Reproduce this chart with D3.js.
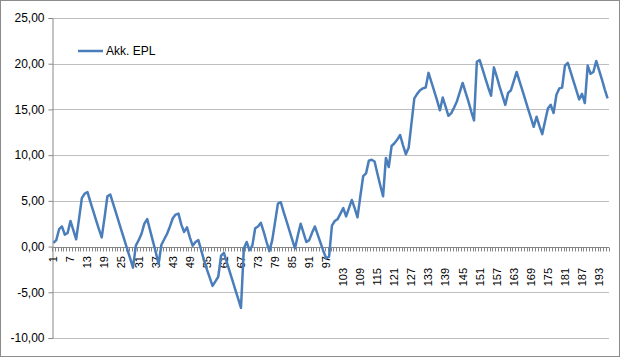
<!DOCTYPE html>
<html><head><meta charset="utf-8">
<script src="https://cdn.jsdelivr.net/npm/d3@7"></script>
<style>body{margin:0;background:#fff}svg{display:block}text{font-family:"Liberation Sans",Arial,sans-serif;fill:#000}</style>
</head><body><svg id="c" width="620" height="357"></svg>
<script>
const seriesName = "Akk. EPL";
const values = [
0.4,0.7,1.9,2.2,1.3,1.5,2.8,1.8,0.8,3.0,
5.3,5.8,5.95,4.9,3.9,2.9,1.9,1.0,3.2,5.5,
5.7,4.7,3.7,2.7,1.7,0.7,-0.3,-1.3,-2.3,0.1,
0.7,1.4,2.5,3.0,1.8,0.6,-0.6,-1.9,0.2,0.8,
1.4,2.2,3.1,3.5,3.6,2.4,1.6,2.1,1.0,0.1,
0.5,0.7,-0.4,-1.5,-2.5,-3.4,-4.3,-3.8,-3.3,-1.0,
-0.7,-1.7,-2.7,-3.7,-4.7,-5.7,-6.7,-0.2,0.5,-0.4,
0.1,2.0,2.2,2.6,1.6,0.5,-0.5,0.7,2.7,4.7,
4.85,3.8,2.8,1.8,0.8,-0.2,1.2,2.5,1.5,0.5,
0.7,1.5,2.2,1.3,0.4,-0.5,-1.3,-1.1,2.3,2.8,
3.0,3.6,4.2,3.3,4.2,5.1,4.2,3.2,5.5,7.7,
8.0,9.4,9.5,9.3,8.0,6.7,5.5,9.7,8.7,11.0,
11.3,11.7,12.2,11.1,10.1,10.8,13.5,16.2,16.7,17.1,
17.3,17.4,19.0,18.0,17.0,16.0,14.9,16.3,15.3,14.3,
14.6,15.2,15.9,16.9,17.9,16.9,15.9,14.8,13.8,20.2,
20.4,19.4,18.4,17.4,16.5,19.6,18.6,17.5,16.5,15.5,
16.8,17.1,18.1,19.1,18.1,17.1,16.1,15.1,14.1,13.1,
14.2,13.2,12.3,13.7,15.1,15.5,14.6,16.6,17.3,17.4,
19.8,20.1,19.1,18.1,17.1,16.1,16.7,15.7,19.8,18.9,
19.1,20.3,19.3,18.3,17.2,16.2
];
const categories = values.map((v,i)=>String(i+1));
const xTickLabels = categories.filter((c,i)=>i%6===0);
const yTicks = [-10,-5,0,5,10,15,20,25];

const svg = d3.select("#c");
const L=52,R=609,T=18,B=338;
svg.append("rect").attr("x",0.5).attr("y",0.5).attr("width",619).attr("height",356)
  .attr("fill","#fff").attr("stroke","#8c8c8c");

const x = d3.scaleBand().domain(categories).range([L,R]).padding(0);
const y = d3.scaleLinear().domain([-10,25]).range([B,T]);
const loc = d3.formatLocale({decimal:",",thousands:".",grouping:[3],currency:["",""],minus:"-"});
const fmt = loc.format(".2f");

// gridlines
svg.append("g").selectAll("line").data(yTicks).join("line")
  .attr("x1",L).attr("x2",R).attr("y1",d=>Math.round(y(d))+0.5).attr("y2",d=>Math.round(y(d))+0.5)
  .attr("stroke","#bfbfbf").attr("stroke-width",1);

// y axis
const ya = svg.append("g").attr("transform",`translate(${L+0.5},0)`)
  .call(d3.axisLeft(y).tickValues(yTicks).tickFormat(fmt).tickSize(4).tickPadding(4));
ya.select(".domain").attr("stroke","#868686");
ya.selectAll(".tick line").attr("stroke","#868686");
ya.selectAll(".tick text").attr("font-size","12px").attr("font-family","Liberation Sans, Arial, sans-serif").attr("fill","#000");

// x axis minor ticks at category boundaries
const y0 = Math.round(y(0))+0.5;
const bounds = categories.map(c=>x(c)).concat([R]);
svg.append("g").selectAll("line").data(bounds).join("line")
  .attr("x1",d=>Math.round(d)+0.5).attr("x2",d=>Math.round(d)+0.5)
  .attr("y1",y0).attr("y2",y0+4).attr("stroke","#868686");
svg.append("line").attr("x1",L).attr("x2",R).attr("y1",y0).attr("y2",y0).attr("stroke","#868686");

// x labels
svg.append("g").selectAll("text").data(xTickLabels).join("text")
  .attr("transform",d=>`translate(${x(d)+x.bandwidth()/2},${d.length>2?268:256}) rotate(-90)`)
  .attr("text-anchor","end").attr("dy","0.35em").attr("font-size","11px").text(d=>d);

// line
const line = d3.line().x((d,i)=>x(categories[i])+x.bandwidth()/2).y(d=>y(d));
svg.append("path").datum(values).attr("d",line).attr("fill","none")
  .attr("stroke","#4a7ebb").attr("stroke-width",2.5).attr("stroke-linejoin","round");

// legend
svg.append("line").attr("x1",78).attr("x2",103).attr("y1",51).attr("y2",51)
  .attr("stroke","#4a7ebb").attr("stroke-width",2.5);
svg.append("text").attr("x",106).attr("y",55).attr("font-size","12px").text(seriesName);
</script></body></html>
